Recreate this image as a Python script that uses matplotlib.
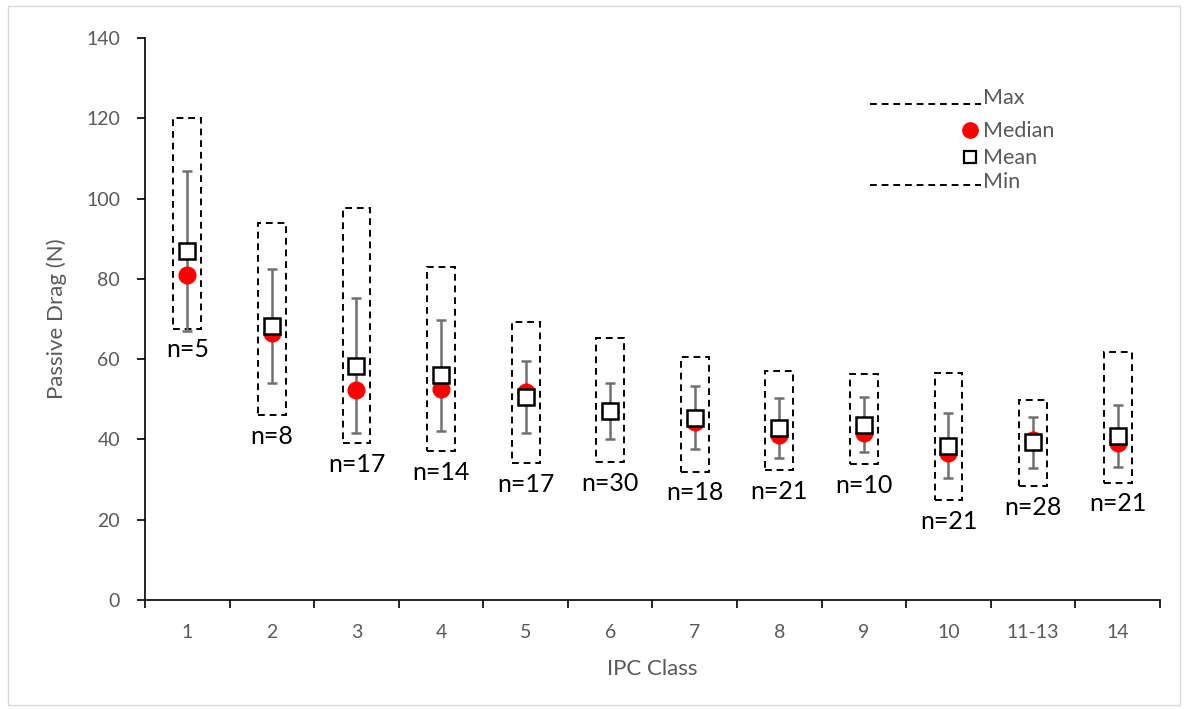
import matplotlib.pyplot as plt
from matplotlib.patches import Rectangle

classes = ['1', '2', '3', '4', '5', '6', '7', '8', '9', '10', '11-13', '14']
n_sizes = [5, 8, 17, 14, 17, 30, 18, 21, 10, 21, 28, 21]
max_vals = [120.0, 93.9, 97.6, 83.0, 69.2, 65.3, 60.5, 57.1, 56.3, 56.5, 49.8, 61.7]
min_vals = [67.6, 46.0, 39.0, 37.1, 34.1, 34.4, 32.0, 32.4, 33.9, 24.9, 28.4, 29.2]
means = [86.9, 68.3, 58.4, 56.0, 50.6, 47.1, 45.4, 42.9, 43.7, 38.4, 39.3, 40.9]
sds = [19.9, 14.2, 16.9, 13.8, 9.0, 7.0, 7.9, 7.4, 6.9, 8.1, 6.3, 7.7]
medians = [81.0, 66.5, 52.3, 52.5, 51.8, 47.0, 44.4, 41.0, 41.7, 36.6, 39.8, 39.2]

gray = '#595959'
plt.rcParams['font.family'] = ['Lato', 'DejaVu Sans']

fig = plt.figure(figsize=(11.86, 7.09), dpi=100)
ax = fig.add_axes([0.1223, 0.1537, 0.8557, 0.7927])

x = list(range(len(classes)))
box_w = 0.33
for xi, lo, hi in zip(x, min_vals, max_vals):
    ax.add_patch(Rectangle((xi - box_w / 2, lo), box_w, hi - lo, fill=False,
                           edgecolor='black', linestyle=(0, (3.5, 2.5)), lw=1.4, zorder=2))

ax.errorbar(x, means, yerr=sds, fmt='none', ecolor='#707070', elinewidth=1.8,
            capsize=3.8, capthick=1.8, zorder=3)
ax.plot(x, medians, 'o', color='red', markersize=12, zorder=4)
ax.plot(x, means, 's', markerfacecolor='white', markeredgecolor='black',
        markeredgewidth=1.8, markersize=11, zorder=5)

for xi, lo, n in zip(x, min_vals, n_sizes):
    ax.text(xi, lo - 2.4, 'n=%d' % n, ha='center', va='top', fontsize=18, color='black')

# legend drawn by hand
t = ax.transAxes
ax.plot([0.714, 0.824], [0.883, 0.883], transform=t, color='black',
        linestyle=(0, (3.5, 2.5)), lw=1.4)
ax.text(0.826, 0.893, 'Max', transform=t, fontsize=15.5, color=gray, va='center')
ax.plot([0.813], [0.836], 'o', transform=t, color='red', markersize=11)
ax.text(0.826, 0.834, 'Median', transform=t, fontsize=15.5, color=gray, va='center')
ax.plot([0.813], [0.788], 's', transform=t, markerfacecolor='white',
        markeredgecolor='black', markeredgewidth=1.6, markersize=9)
ax.text(0.826, 0.786, 'Mean', transform=t, fontsize=15.5, color=gray, va='center')
ax.plot([0.714, 0.824], [0.738, 0.738], transform=t, color='black',
        linestyle=(0, (3.5, 2.5)), lw=1.4)
ax.text(0.826, 0.743, 'Min', transform=t, fontsize=15.5, color=gray, va='center')

ax.set_xlim(-0.5, len(classes) - 0.5)
ax.set_ylim(0, 140)
ax.set_yticks(range(0, 141, 20))
ax.set_xticks(x)
ax.set_xticklabels(classes)
ax.set_xticks([i - 0.5 for i in range(len(classes) + 1)], minor=True)
ax.tick_params(axis='x', which='major', length=0, pad=17, labelsize=14, labelcolor=gray)
ax.tick_params(axis='x', which='minor', length=6, width=1.2, direction='out')
ax.tick_params(axis='y', length=6, width=1.2, direction='out', pad=12,
               labelsize=14, labelcolor=gray)
for s in ['top', 'right']:
    ax.spines[s].set_visible(False)
for s in ['left', 'bottom']:
    ax.spines[s].set_linewidth(1.2)

ax.set_ylabel('Passive Drag (N)', fontsize=16, color=gray, labelpad=14)
ax.set_xlabel('IPC Class', fontsize=16, color=gray, labelpad=13)

fig.patches.append(Rectangle((0.007, 0.006), 0.988, 0.985, transform=fig.transFigure,
                             fill=False, edgecolor='#d9d9d9', lw=1))

fig.savefig('out.png', dpi=100)
